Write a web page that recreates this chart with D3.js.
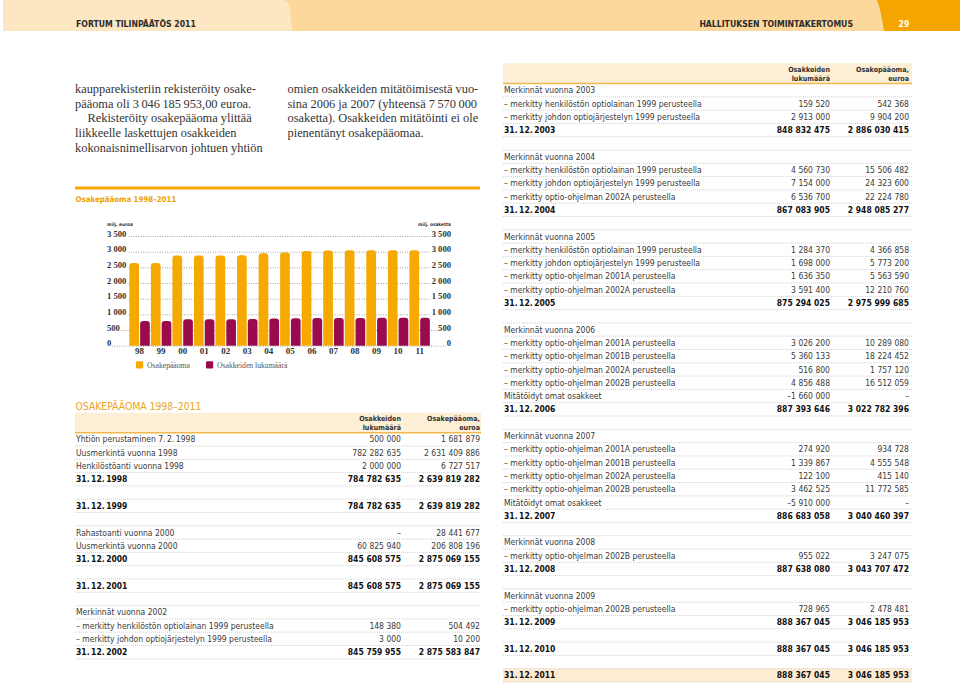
<!DOCTYPE html>
<html><head><meta charset="utf-8">
<script src="https://cdn.jsdelivr.net/npm/d3@7"></script>
<style>body{margin:0;background:#fff}svg{display:block}</style>
</head><body>
<svg id="c" width="960" height="683"></svg>
<script>
// ---------- data ----------
const years = ["98","99","00","01","02","03","04","05","06","07","08","09","10","11"];
const capital = [2639.8,2639.8,2875.1,2875.1,2875.6,2886.0,2948.1,2976.0,3022.8,3040.5,3043.7,3046.2,3046.2,3046.2]; // milj. euroa
const shares  = [784.8,784.8,845.6,845.6,845.8,848.8,867.1,875.3,887.4,886.7,887.6,888.4,888.4,888.4];        // milj. osaketta
const yTicks = [0,500,1000,1500,2000,2500,3000,3500];
const seriesNames = ["Osakepääoma","Osakkeiden lukumäärä"];
const chartTitle = "Osakepääoma 1998–2011";
const axisLeftTitle = "milj. euroa";
const axisRightTitle = "milj. osaketta";

const headerLeft = "FORTUM TILINPÄÄTÖS 2011";
const headerRight = "HALLITUKSEN TOIMINTAKERTOMUS";
const pageNo = "29";

const leftText = [
  "kaupparekisteriin rekisteröity osake-",
  "pääoma oli 3\u2009046\u2009185\u2009953,00 euroa.",
  "Rekisteröity osakepääoma ylittää",
  "liikkeelle laskettujen osakkeiden",
  "kokonaisnimellisarvon johtuen yhtiön"
];
const rightText = [
  "omien osakkeiden mitätöimisestä vuo-",
  "sina 2006 ja 2007 (yhteensä 7\u2009570\u2009000",
  "osaketta). Osakkeiden mitätöinti ei ole",
  "pienentänyt osakepääomaa."
];

const tableTitle = "OSAKEPÄÄOMA 1998–2011";
const tableHeader = [["Osakkeiden","lukumäärä"],["Osakepääoma,","euroa"]];

const leftRows = [
  ["Yhtiön perustaminen 7.\u20092.\u20091998", 500000, 1681879],
  ["Uusmerkintä vuonna 1998", 782282635, 2631409886],
  ["Henkilöstöanti vuonna 1998", 2000000, 6727517],
  ["31.\u200912.\u20091998", 784782635, 2639819282, "t"],
  [],
  ["31.\u200912.\u20091999", 784782635, 2639819282, "t"],
  [],
  ["Rahastoanti vuonna 2000", null, 28441677],
  ["Uusmerkintä vuonna 2000", 60825940, 206808196],
  ["31.\u200912.\u20092000", 845608575, 2875069155, "t"],
  [],
  ["31.\u200912.\u20092001", 845608575, 2875069155, "t"],
  [],
  ["Merkinnät vuonna 2002"],
  ["– merkitty henkilöstön optiolainan 1999 perusteella", 148380, 504492],
  ["– merkitty johdon optiojärjestelyn 1999 perusteella", 3000, 10200],
  ["31.\u200912.\u20092002", 845759955, 2875583847, "t"]
];

const rightRows = [
  ["Merkinnät vuonna 2003"],
  ["– merkitty henkilöstön optiolainan 1999 perusteella", 159520, 542368],
  ["– merkitty johdon optiojärjestelyn 1999 perusteella", 2913000, 9904200],
  ["31.\u200912.\u20092003", 848832475, 2886030415, "t"],
  [],
  ["Merkinnät vuonna 2004"],
  ["– merkitty henkilöstön optiolainan 1999 perusteella", 4560730, 15506482],
  ["– merkitty johdon optiojärjestelyn 1999 perusteella", 7154000, 24323600],
  ["– merkitty optio-ohjelman 2002A perusteella", 6536700, 22224780],
  ["31.\u200912.\u20092004", 867083905, 2948085277, "t"],
  [],
  ["Merkinnät vuonna 2005"],
  ["– merkitty henkilöstön optiolainan 1999 perusteella", 1284370, 4366858],
  ["– merkitty johdon optiojärjestelyn 1999 perusteella", 1698000, 5773200],
  ["– merkitty optio-ohjelman 2001A perusteella", 1636350, 5563590],
  ["– merkitty optio-ohjelman 2002A perusteella", 3591400, 12210760],
  ["31.\u200912.\u20092005", 875294025, 2975999685, "t"],
  [],
  ["Merkinnät vuonna 2006"],
  ["– merkitty optio-ohjelman 2001A perusteella", 3026200, 10289080],
  ["– merkitty optio-ohjelman 2001B perusteella", 5360133, 18224452],
  ["– merkitty optio-ohjelman 2002A perusteella", 516800, 1757120],
  ["– merkitty optio-ohjelman 2002B perusteella", 4856488, 16512059],
  ["Mitätöidyt omat osakkeet", -1660000, null],
  ["31.\u200912.\u20092006", 887393646, 3022782396, "t"],
  [],
  ["Merkinnät vuonna 2007"],
  ["– merkitty optio-ohjelman 2001A perusteella", 274920, 934728],
  ["– merkitty optio-ohjelman 2001B perusteella", 1339867, 4555548],
  ["– merkitty optio-ohjelman 2002A perusteella", 122100, 415140],
  ["– merkitty optio-ohjelman 2002B perusteella", 3462525, 11772585],
  ["Mitätöidyt omat osakkeet", -5910000, null],
  ["31.\u200912.\u20092007", 886683058, 3040460397, "t"],
  [],
  ["Merkinnät vuonna 2008"],
  ["– merkitty optio-ohjelman 2002B perusteella", 955022, 3247075],
  ["31.\u200912.\u20092008", 887638080, 3043707472, "t"],
  [],
  ["Merkinnät vuonna 2009"],
  ["– merkitty optio-ohjelman 2002B perusteella", 728965, 2478481],
  ["31.\u200912.\u20092009", 888367045, 3046185953, "t"],
  [],
  ["31.\u200912.\u20092010", 888367045, 3046185953, "t"],
  [],
  ["31.\u200912.\u20092011", 888367045, 3046185953, "t"]
];

// ---------- setup ----------
const svg = d3.select("#c");
const SANS = "'Liberation Sans Narrow','DejaVu Sans Condensed','Liberation Sans',sans-serif";
const SERIF = "'Liberation Serif','DejaVu Serif',serif";
const ORANGE = "#f6a900", MAROON = "#990b4e";

function sizeFor(family, weight, sample, target){
  const t = svg.append("text").attr("font-family",family).attr("font-weight",weight)
    .attr("font-size",10).text(sample);
  const w = t.node().getComputedTextLength(); t.remove();
  return 10*target/w;
}
const fmtInt = d3.format(",d");
function fmtNum(v){
  if (v === undefined) return "";
  if (v === null) return "–";
  return fmtInt(v).replace(/,/g," ").replace(/[−-]/,"–");
}

// ---------- page header ----------
svg.append("rect").attr("x",3).attr("y",0).attr("width",957).attr("height",31).attr("fill","#fdd89d");
svg.append("path").attr("d","M3,0H281Q289,0 290,10L292,31H3Z").attr("fill","#fde7c2");
svg.append("path").attr("d","M877,0H960V31H884Q881,10 877,0Z").attr("fill","#f5a500");
const hs = sizeFor(SANS,"bold",headerLeft,120);
svg.append("text").attr("x",76).attr("y",27).attr("font-family",SANS)
  .attr("font-weight","bold").attr("font-size",hs).attr("fill","#2b2b2b").text(headerLeft);
svg.append("text").attr("x",853).attr("y",27).attr("text-anchor","end").attr("font-family",SANS)
  .attr("font-weight","bold").attr("font-size",hs).attr("fill","#2b2b2b").text(headerRight);
svg.append("text").attr("x",904).attr("y",27).attr("text-anchor","middle").attr("font-family",SANS)
  .attr("font-weight","bold").attr("font-size",hs).attr("fill","#fff").text(pageNo);

// ---------- body text ----------
const bs = sizeFor(SERIF,"normal",leftText[0],181);
leftText.forEach((s,i)=>{
  svg.append("text").attr("x", i===2 ? 87.5 : 75).attr("y", 93 + i*14.7)
    .attr("font-family",SERIF).attr("font-size",bs).attr("fill","#333").text(s);
});
rightText.forEach((s,i)=>{
  svg.append("text").attr("x",287.5).attr("y", 93 + i*14.7)
    .attr("font-family",SERIF).attr("font-size",bs).attr("fill","#333").text(s);
});

// ---------- chart ----------
svg.append("line").attr("x1",75).attr("x2",480).attr("y1",188).attr("y2",188)
  .attr("stroke",ORANGE).attr("stroke-width",3);
const ts = sizeFor(SANS,"bold",chartTitle,101);
svg.append("text").attr("x",75.5).attr("y",202).attr("font-family",SANS).attr("font-weight","bold")
  .attr("font-size",ts).attr("fill","#eba200").text(chartTitle);

const x0 = d3.scaleBand().domain(years).range([128.8, 430.4]);
const x1 = d3.scaleBand().domain(["cap","sh"]).range([0, x0.bandwidth()]).paddingInner(0.1).paddingOuter(0.05);
const y = d3.scaleLinear().domain([0,3500]).range([345.7, 236]);
const tickFmt = v => fmtInt(v).replace(/,/g," ");

const chart = svg.append("g");
// gridlines
chart.append("g").selectAll("line").data(yTicks).join("line")
  .attr("x1",107).attr("x2",451).attr("y1",d=>y(d)+0.5).attr("y2",d=>y(d)+0.5)
  .attr("stroke","#8a8a8a").attr("stroke-width",0.8).attr("stroke-dasharray","1,1.4");

function topRounded(x, yy, w, h, r){
  r = Math.min(r, w/2, h);
  return `M${x},${yy+h}V${yy+r}Q${x},${yy} ${x+r},${yy}H${x+w-r}Q${x+w},${yy} ${x+w},${yy+r}V${yy+h}Z`;
}
const groups = chart.append("g").selectAll("g").data(years).join("g")
  .attr("transform", d=>`translate(${x0(d)},0)`);
groups.append("path").attr("fill",ORANGE)
  .attr("d",(d,i)=>topRounded(x1("cap"), y(capital[i]), x1.bandwidth(), y(0)-y(capital[i]), 3));
groups.append("path").attr("fill",MAROON)
  .attr("d",(d,i)=>topRounded(x1("sh"), y(shares[i]), x1.bandwidth(), y(0)-y(shares[i]), 3));

// axes
const axL = chart.append("g").attr("transform","translate(107,0)")
  .call(d3.axisLeft(y).tickValues(yTicks).tickFormat(tickFmt).tickSize(0));
const axR = chart.append("g").attr("transform","translate(451,0)")
  .call(d3.axisRight(y).tickValues(yTicks).tickFormat(tickFmt).tickSize(0));
[axL,axR].forEach((ax,k)=>{
  ax.select(".domain").remove();
  ax.selectAll("text").attr("x",0).attr("dy",0).attr("y",0)
    .attr("text-anchor", k===0 ? "start":"end")
    .attr("font-family",SERIF).attr("font-weight","bold").attr("font-size",8.6).attr("fill","#333")
    .attr("stroke","#fff").attr("stroke-width",3).attr("paint-order","stroke");
});
const axB = chart.append("g").attr("transform",`translate(0,${y(0)})`)
  .call(d3.axisBottom(x0).tickSize(0).tickPadding(1.5));
axB.select(".domain").remove();
axB.selectAll("text").attr("font-family",SERIF).attr("font-weight","bold").attr("font-size",9).attr("fill","#333");

const as = sizeFor(SANS,"bold",axisLeftTitle,26);
svg.append("text").attr("x",107).attr("y",226).attr("font-family",SANS).attr("font-weight","bold")
  .attr("font-size",as).attr("fill","#333").text(axisLeftTitle);
svg.append("text").attr("x",451).attr("y",226).attr("text-anchor","end").attr("font-family",SANS).attr("font-weight","bold")
  .attr("font-size",as).attr("fill","#333").text(axisRightTitle);

// legend
const ls = sizeFor(SERIF,"normal",seriesNames[0],43);
const legX = [136, 206];
seriesNames.forEach((n,i)=>{
  svg.append("rect").attr("x",legX[i]).attr("y",361.3).attr("width",7.2).attr("height",7.2).attr("rx",1.2)
    .attr("fill", i===0 ? ORANGE : MAROON);
  svg.append("text").attr("x",legX[i]+11).attr("y",368).attr("font-family",SERIF)
    .attr("font-size",ls).attr("fill","#555").text(n);
});

// ---------- tables ----------
const rs = sizeFor(SANS,"normal","– merkitty henkilöstön optiolainan 1999 perusteella",198);
const hsz = sizeFor(SANS,"bold","Osakkeiden",42);
const tts = sizeFor(SANS,"normal",tableTitle,126);
svg.append("text").attr("x",75.5).attr("y",409.5).attr("font-family",SANS)
  .attr("font-size",tts).attr("fill","#eba31c").text(tableTitle);

function drawTable(rows, o){
  const g = svg.append("g");
  g.append("rect").attr("x",o.x0).attr("y",o.hTop).attr("width",o.x1-o.x0).attr("height",o.top-o.hTop)
    .attr("fill","#fdeed6");
  if (o.highlightLast){
    g.append("rect").attr("x",o.x0).attr("y",o.top+(rows.length-1)*o.rowH).attr("width",o.x1-o.x0)
      .attr("height",o.rowH).attr("fill","#fdebd2");
  }
  g.append("line").attr("x1",o.x0).attr("x2",o.x1).attr("y1",o.top).attr("y2",o.top)
    .attr("stroke","#f1b84c").attr("stroke-width",1.6);
  tableHeader.forEach((lines,c)=>{
    lines.forEach((s,j)=>{
      g.append("text").attr("x", c===0 ? o.c1 : o.c2).attr("y", o.hTop + 8.5 + j*8.8)
        .attr("text-anchor","end").attr("font-family",SANS).attr("font-weight","bold")
        .attr("font-size",hsz).attr("fill","#333").text(s);
    });
  });
  rows.forEach((r,i)=>{
    const top = o.top + i*o.rowH, cy = top + o.rowH/2, base = cy + rs*0.36;
    g.append("line").attr("x1",o.x0).attr("x2",o.x1).attr("y1",top+o.rowH).attr("y2",top+o.rowH)
      .attr("stroke","#cfc7ae").attr("stroke-width",0.8).attr("stroke-dasharray","1,1");
    if (!r.length) return;
    const bold = r[3]==="t";
    const attrs = s => s.attr("font-family",SANS).attr("font-size",rs)
      .attr("font-weight", bold ? "bold":"normal").attr("fill", bold ? "#111":"#3a3a3a");
    g.append("text").attr("x",o.x0+1).attr("y",base).call(attrs).text(r[0]);
    if (r.length>1){
      g.append("text").attr("x",o.c1).attr("y",base).attr("text-anchor","end").call(attrs).text(fmtNum(r[1]));
      g.append("text").attr("x",o.c2).attr("y",base).attr("text-anchor","end").call(attrs).text(fmtNum(r[2]));
    }
  });
}
drawTable(leftRows, {x0:75, x1:481, c1:401, c2:480, hTop:412.7, top:432.7, rowH:13.3});
drawTable(rightRows, {x0:503, x1:912, c1:830, c2:909, hTop:63.3, top:83.5, rowH:13.3, highlightLast:true});
</script>
</body></html>
